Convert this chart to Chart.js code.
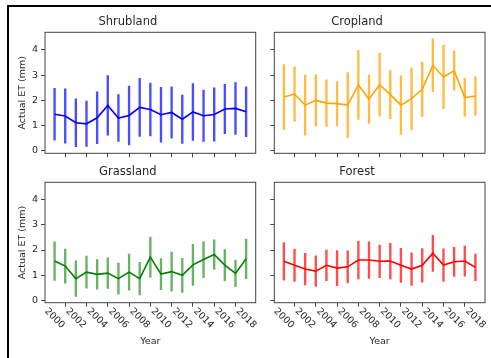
<!DOCTYPE html>
<html>
<head>
<meta charset="utf-8">
<script src="https://cdn.jsdelivr.net/npm/chart.js@4"></script>
<style>
  body { margin: 0; background: #fff; }
  #wrap { position: relative; width: 491px; height: 358px; overflow: hidden; background: #fff; }
  #frame { position: absolute; left: 7px; top: 5px; width: 484px; height: 351px;
           border-left: 2px solid #000; border-top: 2px solid #000; border-bottom: 1px solid #ccc; }
  canvas { position: absolute; }
</style>
</head>
<body>
<div id="wrap">
  <div id="frame"></div>
  <canvas id="c1" width="262" height="166" style="left:0px;top:0px"></canvas>
  <canvas id="c2" width="262" height="166" style="left:229px;top:0px"></canvas>
  <canvas id="c3" width="262" height="208" style="left:0px;top:150px"></canvas>
  <canvas id="c4" width="262" height="208" style="left:229px;top:150px"></canvas>
</div>
<script>
// years and tick labels
var years = [2000, 2001, 2002, 2003, 2004, 2005, 2006, 2007, 2008, 2009, 2010, 2011, 2012, 2013, 2014, 2015, 2016, 2017, 2018];
var xTicks = [2000, 2002, 2004, 2006, 2008, 2010, 2012, 2014, 2016, 2018];
var yTicks = [0, 1, 2, 3, 4];

// mean actual ET (mm) and its spread
var shrubMean = [1.45, 1.38, 1.11, 1.07, 1.31, 1.80, 1.30, 1.40, 1.72, 1.64, 1.43, 1.52, 1.25, 1.54, 1.39, 1.44, 1.66, 1.68, 1.55];
var shrubErr  = [1.03, 1.08, 0.95, 0.90, 1.03, 1.18, 0.93, 1.17, 1.15, 1.05, 1.09, 1.02, 0.96, 1.13, 1.02, 1.06, 0.98, 1.03, 0.99];

var cropMean = [2.13, 2.25, 1.81, 2.00, 1.89, 1.87, 1.81, 2.61, 2.05, 2.62, 2.23, 1.81, 2.07, 2.44, 3.39, 2.93, 3.18, 2.11, 2.17];
var cropErr  = [1.29, 1.08, 1.19, 1.02, 0.92, 0.88, 1.29, 1.37, 0.96, 1.25, 0.96, 1.16, 1.22, 1.08, 1.05, 1.26, 0.78, 0.75, 0.77];

var grassMean = [1.56, 1.36, 0.86, 1.12, 1.03, 1.08, 0.86, 1.12, 0.86, 1.72, 1.04, 1.14, 0.99, 1.41, 1.62, 1.82, 1.40, 1.07, 1.65];
var grassErr  = [0.77, 0.68, 0.71, 0.64, 0.59, 0.61, 0.62, 0.72, 0.65, 0.80, 0.62, 0.78, 0.68, 0.82, 0.72, 0.59, 0.62, 0.53, 0.79];

var forestMean = [1.55, 1.39, 1.24, 1.16, 1.39, 1.28, 1.33, 1.60, 1.60, 1.55, 1.56, 1.39, 1.24, 1.39, 1.87, 1.40, 1.53, 1.56, 1.31];
var forestErr  = [0.75, 0.64, 0.63, 0.61, 0.61, 0.70, 0.64, 0.75, 0.73, 0.65, 0.71, 0.68, 0.65, 0.67, 0.72, 0.65, 0.58, 0.60, 0.53];

var textColor = '#262626';
var spineColor = '#444';
Chart.defaults.font.family = '"DejaVu Sans", sans-serif';
Chart.defaults.color = textColor;

// draws the full axes box and the rotated year labels
var boxPlugin = {
    id: 'box',
    afterDraw: function (chart, args, opts) {
        var ctx = chart.ctx, a = chart.chartArea;
        ctx.save();
        ctx.strokeStyle = spineColor;
        ctx.lineWidth = 1;
        ctx.strokeRect(a.left, a.top, a.right - a.left, a.bottom - a.top);
        if (opts.xLabels) {
            var sx = chart.scales.x;
            ctx.font = '9.5px "DejaVu Sans"';
            ctx.fillStyle = textColor;
            ctx.textAlign = 'center';
            ctx.textBaseline = 'middle';
            xTicks.forEach(function (v) {
                ctx.save();
                ctx.translate(sx.getPixelForValue(v), a.bottom + 15.6);
                ctx.rotate(Math.PI / 4);
                ctx.fillText(String(v), 0, 0);
                ctx.restore();
            });
        }
        ctx.restore();
    }
};

var panels = [
    { id: 'c1', title: 'Shrubland', mean: shrubMean, err: shrubErr, line: '#0000ff', bar: 'rgba(0,0,255,0.7)', yw: 45, xh: 12.7, padR: 6.3, left: true, bottom: false },
    { id: 'c2', title: 'Cropland', mean: cropMean, err: cropErr, line: '#ffa500', bar: 'rgba(255,165,0,0.75)', yw: 45.3, xh: 12.7, padR: 6, left: false, bottom: false },
    { id: 'c3', title: 'Grassland', mean: grassMean, err: grassErr, line: '#008000', bar: 'rgba(0,128,0,0.6)', yw: 45, xh: 55.3, padR: 6.3, left: true, bottom: true },
    { id: 'c4', title: 'Forest', mean: forestMean, err: forestErr, line: '#ff0000', bar: 'rgba(255,0,0,0.7)', yw: 45.3, xh: 55.3, padR: 6, left: false, bottom: true }
];

panels.forEach(function (p) {
    var ctx = document.getElementById(p.id).getContext('2d');
    new Chart(ctx, {
        type: 'bar',
        data: {
            datasets: [{
                type: 'line',
                data: years.map(function (y, i) { return { x: y, y: p.mean[i] }; }),
                borderColor: p.line,
                borderWidth: 1.6,
                pointRadius: 0,
                tension: 0,
                fill: false
            }, {
                type: 'bar',
                data: years.map(function (y, i) { return { x: y, y: [p.mean[i] - p.err[i], p.mean[i] + p.err[i]] }; }),
                backgroundColor: p.bar,
                borderWidth: 0,
                barThickness: 1.7
            }]
        },
        plugins: [boxPlugin],
        options: {
            responsive: false,
            animation: false,
            layout: { padding: { left: 0, right: p.padR, top: 0, bottom: 0 } },
            plugins: {
                legend: { display: false },
                tooltip: { enabled: false },
                title: {
                    display: true,
                    text: p.title,
                    color: textColor,
                    font: { size: 11.5, weight: 'normal' },
                    padding: { top: 15.4, bottom: 3.1 }
                },
                box: { xLabels: p.bottom }
            },
            scales: {
                x: {
                    type: 'linear',
                    offset: false,
                    min: 1999.1,
                    max: 2018.9,
                    afterBuildTicks: function (s) { s.ticks = xTicks.map(function (v) { return { value: v }; }); },
                    afterFit: function (s) { s.height = p.xh; },
                    ticks: { display: false },
                    grid: { drawOnChartArea: false, drawTicks: true, tickLength: 4, color: spineColor },
                    border: { display: false },
                    title: {
                        display: p.bottom,
                        text: 'Year',
                        color: textColor,
                        font: { size: 9.5 },
                        padding: { top: 0, bottom: 10.6 }
                    }
                },
                y: {
                    min: -0.1,
                    max: 4.7,
                    afterBuildTicks: function (s) { s.ticks = yTicks.map(function (v) { return { value: v }; }); },
                    afterFit: function (s) { s.width = p.yw; },
                    ticks: { display: p.left, padding: 3, color: textColor, font: { size: 9.5 } },
                    grid: { drawOnChartArea: false, drawTicks: true, tickLength: 4, color: spineColor },
                    border: { display: false },
                    title: {
                        display: p.left,
                        text: 'Actual ET (mm)',
                        color: textColor,
                        font: { size: 9.5 },
                        padding: { top: 17, bottom: 0 }
                    }
                }
            }
        }
    });
});
</script>
</body>
</html>
